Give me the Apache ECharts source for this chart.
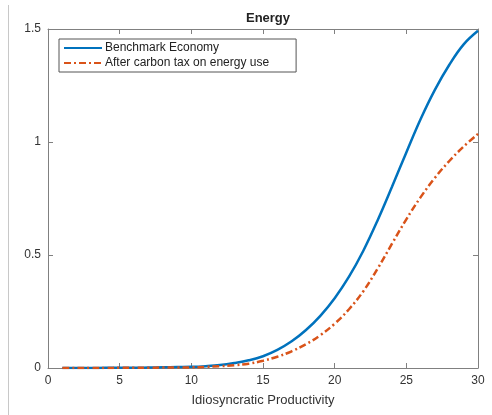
<!DOCTYPE html>
<html>
<head>
<meta charset="utf-8">
<script src="https://cdn.jsdelivr.net/npm/echarts@6/dist/echarts.min.js"></script>
<style>
  html, body { margin: 0; padding: 0; background: #fff; }
  #chart { width: 492px; height: 415px; }
</style>
</head>
<body>
<div id="chart"></div>
<script>
// productivity grid and energy use in both economies
const productivity = [1, 2, 3, 4, 5, 6, 7, 8, 9, 10, 11, 12, 13, 14, 15,
    16, 17, 18, 19, 20, 21, 22, 23, 24, 25, 26, 27, 28, 29, 30];
const benchmark = [0, 0, 0, 0.001, 0.001, 0.001, 0.002, 0.003, 0.004, 0.005,
    0.008, 0.013, 0.022, 0.034, 0.052, 0.08, 0.118, 0.168, 0.231, 0.309,
    0.404, 0.519, 0.654, 0.802, 0.954, 1.102, 1.232, 1.342, 1.432, 1.492];
const carbonTax = [0, 0, 0, 0, 0.001, 0.001, 0.001, 0.002, 0.002, 0.003,
    0.005, 0.008, 0.012, 0.019, 0.032, 0.05, 0.074, 0.105, 0.145, 0.196,
    0.26, 0.34, 0.44, 0.55, 0.658, 0.756, 0.842, 0.916, 0.98, 1.036];
const seriesNames = ['Benchmark Economy', 'After carbon tax on energy use'];

function pairs(ys) {
    return productivity.map(function (x, i) { return [x, ys[i]]; });
}

var boxColor = '#808080';

function ticks() {
    return { show: true, inside: true, length: 5, lineStyle: { color: boxColor, width: 1 } };
}

function drawEnergyChart() {
    var dom = document.getElementById('chart');
    var myChart = echarts.init(dom, null, { renderer: 'canvas' });

    var font = 'Liberation Sans, Arial, sans-serif';

    var option = {
        animation: false,
        title: {
            text: 'Energy',
            left: 263,
            textAlign: 'center',
            top: 7,
            textStyle: { fontFamily: font, fontSize: 13, fontWeight: 'bold', color: '#222' }
        },
        legend: {
            orient: 'vertical',
            left: 59,
            top: 39,
            data: seriesNames,
            itemWidth: 38,
            itemHeight: 10,
            itemGap: 3,
            padding: [3, 27, 3, 4],
            borderColor: '#555',
            borderWidth: 1,
            itemStyle: { opacity: 0 },
            textStyle: { fontFamily: font, fontSize: 12, color: '#222', padding: [0, 0, 0, -2] }
        },
        grid: { left: 48, right: 14, top: 29, bottom: 47 },
        xAxis: [{
            type: 'value',
            min: 0,
            max: 30,
            interval: 5,
            name: 'Idiosyncratic Productivity',
            nameLocation: 'middle',
            nameGap: 26,
            nameTextStyle: { fontFamily: font, fontSize: 13, color: '#333' },
            axisLine: { show: true, onZero: false, lineStyle: { color: boxColor, width: 1 } },
            axisTick: ticks(),
            axisLabel: { fontFamily: font, fontSize: 12, color: '#333', margin: 7 },
            splitLine: { show: false }
        }, {
            type: 'value',
            position: 'top',
            min: 0,
            max: 30,
            interval: 5,
            axisLine: { show: true, onZero: false, lineStyle: { color: boxColor, width: 1 } },
            axisTick: ticks(),
            axisLabel: { show: false },
            splitLine: { show: false }
        }],
        yAxis: [{
            type: 'value',
            min: 0,
            max: 1.5,
            interval: 0.5,
            axisLine: { show: true, onZero: false, lineStyle: { color: boxColor, width: 1 } },
            axisTick: ticks(),
            axisLabel: { fontFamily: font, fontSize: 12, color: '#333', margin: 7 },
            splitLine: { show: false }
        }, {
            type: 'value',
            position: 'right',
            min: 0,
            max: 1.5,
            interval: 0.5,
            axisLine: { show: true, onZero: false, lineStyle: { color: boxColor, width: 1 } },
            axisTick: ticks(),
            axisLabel: { show: false },
            splitLine: { show: false }
        }],
        graphic: [{
            type: 'line',
            shape: { x1: 8.5, y1: 5, x2: 8.5, y2: 415 },
            style: { stroke: '#c8c8c8', lineWidth: 1 }
        }],
        series: [{
            name: seriesNames[0],
            type: 'line',
            data: pairs(benchmark),
            smooth: 0.4,
            symbol: 'none',
            lineStyle: { color: '#0072BD', width: 2.5 },
            itemStyle: { color: '#0072BD' }
        }, {
            name: seriesNames[1],
            type: 'line',
            data: pairs(carbonTax),
            smooth: 0.4,
            symbol: 'none',
            z: 3,
            lineStyle: { color: '#D95319', width: 2.5, type: [7, 3, 2, 3] },
            itemStyle: { color: '#D95319' }
        }]
    };

    myChart.setOption(option);
    window.addEventListener('resize', myChart.resize);
}

drawEnergyChart();
</script>
</body>
</html>
